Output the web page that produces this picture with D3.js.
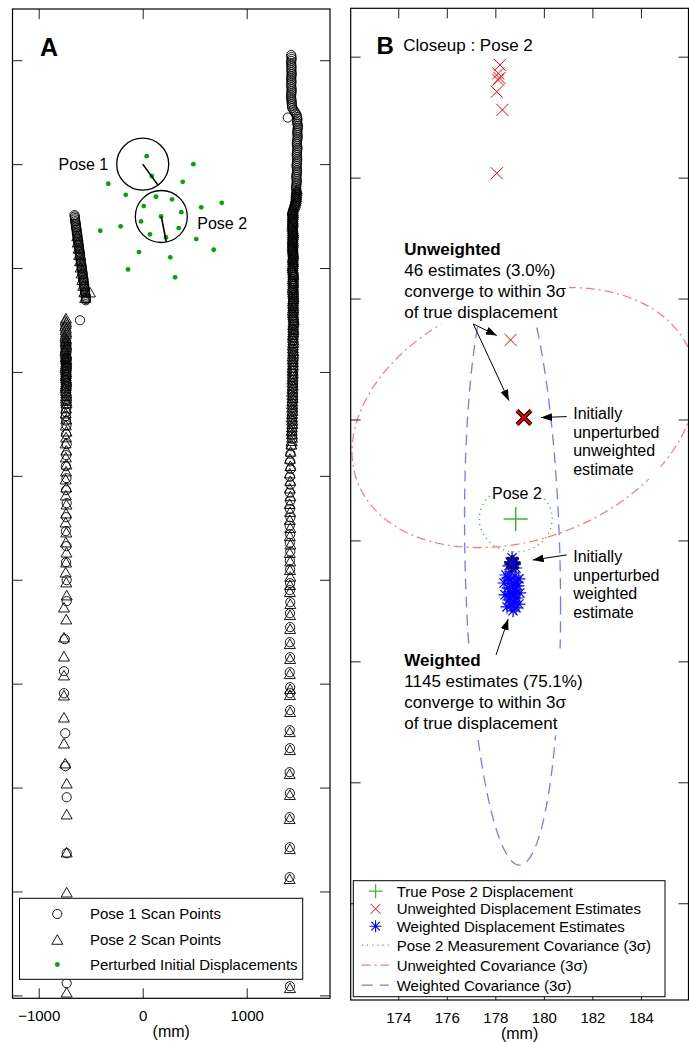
<!DOCTYPE html>
<html>
<head>
<meta charset="utf-8">
<script src="https://cdn.jsdelivr.net/npm/d3@7"></script>
<style>
  body { margin: 0; background: #fff; }
  svg { font-family: "Liberation Sans", Arial, Helvetica, sans-serif; }
</style>
</head>
<body>
<div id="chart"></div>
<script>
// ---------- Panel A data (mm) ----------
var poseNames = ["Pose 1", "Pose 2"];
var poseX = [0, 179];
var poseY = [0, -504];
var poseHeading = [-54, -79];   // degrees
var poseRadius = 250;

var perturbX = [38, 87, 487, -331, 385, -163, 128, 282, 10, 563, 760, 371, 176, -16, -212, -408, 346, 70, 224, 515, -36, 265, 683, -141, 311];
var perturbY = [77, -115, 0, -189, -170, -295, -314, -339, -404, -416, -372, -462, -503, -551, -599, -641, -615, -676, -705, -721, -846, -897, -824, -1013, -1089];

// pose 1 scan points (circles)
var pose1RightWall = [[1428,1050],[1430,1031],[1432,1012],[1429,993],[1427,975],[1429,956],[1431,938],[1430,920],[1429,902],[1431,884],[1433,866],[1430,848],[1428,830],[1429,811],[1431,793],[1429,775],[1427,757],[1430,738],[1432,720],[1431,702],[1430,684],[1428,666],[1426,648],[1429,629],[1431,611],[1433,593],[1434,575],[1436,557],[1438,540],[1450,522],[1462,505],[1472,487],[1481,470],[1485,453],[1488,436],[1486,419],[1484,402],[1488,385],[1395,448],
  [1493,368],[1491,350],[1489,333],[1487,315],[1486,298],[1489,280],[1491,262],[1488,244],[1485,227],[1483,209],[1482,192],[1485,174],[1488,156],[1486,138],[1484,121],[1482,103],[1481,86],[1484,68],[1486,50],[1485,32],[1483,15],[1481,-2],[1479,-20],[1482,-38],[1484,-56],[1483,-73],[1481,-91],[1479,-108],[1477,-126],[1480,-143],[1482,-161],[1480,-179],[1478,-197],[1476,-214],[1475,-232],[1478,-249],[1480,-267],[1477,-284],[1473,-302],[1474,-320],[1476,-338],[1473,-355],[1470,-373],[1464,-390],[1458,-408],[1452,-426],[1446,-444],[1442,-462],[1438,-480],[1440,-498],
  [1441,-516],[1443,-534],[1445,-553],[1442,-571],[1439,-590],[1441,-608],[1443,-627],[1445,-645],[1447,-664],[1444,-683],[1441,-702],[1443,-721],[1444,-740],[1441,-759],[1438,-779],[1442,-798],[1446,-818],[1444,-837],[1442,-857],[1445,-877],[1448,-897],[1446,-917],[1443,-937],[1445,-957],[1447,-978],[1444,-999],[1441,-1020],[1445,-1041],[1449,-1062],[1447,-1083],[1444,-1105],[1447,-1127],[1450,-1149],[1448,-1171],[1445,-1194],[1449,-1217],[1452,-1240],[1449,-1263],[1446,-1287],[1448,-1311],[1450,-1335],[1447,-1359],[1444,-1384],[1448,-1409],[1451,-1434],[1449,-1459],[1447,-1485],[1450,-1511],[1453,-1537],[1450,-1563],[1446,-1590],[1448,-1617],[1450,-1644],[1447,-1671],[1443,-1699],[1446,-1727],[1449,-1755],[1447,-1783],[1445,-1812],[1448,-1841],[1451,-1870],[1448,-1899],[1444,-1929],[1446,-1959],[1448,-1989],[1445,-2019],[1441,-2050],[1444,-2081],[1446,-2112],[1443,-2143],[1440,-2175],[1443,-2207],[1445,-2239],[1442,-2271],[1438,-2304],[1441,-2337],[1443,-2370],[1440,-2403],[1437,-2437],[1439,-2471],[1441,-2505],[1438,-2539],[1435,-2574],[1437,-2609],[1439,-2644],
  [1428,-2715],[1421,-2787],[1418,-2860],[1423,-2934],[1416,-3009],[1420,-3085],[1414,-3162],[1419,-3240],[1415,-3319],[1420,-3399],[1413,-3480],[1418,-3562],[1414,-3645],[1419,-3729],[1415,-3814],[1418,-3900],
  [1417,-4033],[1415,-4100],[1419,-4216],[1416,-4322],[1418,-4456],[1415,-4601],[1417,-4745],[1414,-4890],[1418,-5034],[1416,-5092],[1417,-5255],[1414,-5448],[1416,-5621],[1413,-5852],[1415,-6054],[1413,-6285],[1415,-6574],[1413,-6862],[1414,-7373],[1416,-7912]];
var pose1Obstacle = [[-656,-491],[-653,-504],[-651,-518],[-650,-533],[-649,-549],[-646,-562],[-643,-576],[-642,-591],[-641,-607],[-638,-620],[-635,-633],[-634,-649],[-633,-665],[-630,-677],[-628,-690],[-626,-706],[-625,-723],[-622,-735],[-620,-748],[-618,-764],[-617,-781],[-614,-793],[-612,-806],[-610,-822],[-609,-839],[-606,-852],[-603,-866],[-602,-880],[-602,-894],[-598,-910],[-595,-927],[-594,-940],[-594,-952],[-590,-968],[-587,-985],[-586,-997],[-586,-1010],[-582,-1026],[-579,-1043],[-578,-1055],[-578,-1068],[-574,-1084],[-571,-1101],[-570,-1113],[-570,-1126],[-566,-1142],[-563,-1159],[-562,-1171],[-562,-1184],[-558,-1200],[-555,-1217],[-554,-1229],[-554,-1242],[-550,-1258],[-547,-1275],[-546,-1287],[-545,-1299],[-548,-1310]];
var pose1LeftWall = [[-603,-1502],[-733,-1867],[-735,-1891],[-737,-1915],[-734,-1940],[-731,-1964],[-733,-1992],[-735,-2021],[-737,-2050],[-739,-2079],[-736,-2108],[-733,-2137],[-735,-2170],[-737,-2204],[-734,-2238],[-731,-2272],[-733,-2310],[-735,-2349],[-737,-2387],[-739,-2426],[-736,-2469],[-733,-2512],[-737,-2599],[-731,-2695],[-735,-2801],[-739,-2907],[-733,-3022],[-737,-3138],[-731,-3263],[-735,-3398],[-739,-3532],[-733,-3677],[-737,-3831],[-731,-4004],[-731,-4206],[-750,-4572],[-757,-4880],[-757,-5092],[-745,-5477],[-743,-5794],[-731,-6093],[-731,-6632],[-735,-7277],[-731,-7883]];

// pose 2 scan points (triangles)
var pose2RightWall = [[1482,-241],[1480,-260],[1478,-280],[1476,-299],[1475,-318],[1473,-337],[1470,-357],[1464,-376],[1458,-395],[1450,-414],[1443,-434],[1445,-453],[1447,-472],[1444,-491],[1441,-511],[1443,-530],[1445,-549],[1442,-568],[1439,-588],[1441,-607],[1444,-626],[1446,-645],[1448,-665],[1445,-684],[1442,-704],[1444,-723],[1446,-743],[1443,-762],[1440,-782],[1442,-801],[1445,-821],[1447,-841],[1449,-861],[1446,-881],[1443,-901],[1445,-921],[1447,-941],[1444,-961],[1441,-981],[1443,-1001],[1446,-1022],[1448,-1042],[1450,-1063],[1447,-1083],[1444,-1104],[1446,-1125],[1448,-1146],[1445,-1167],[1442,-1188],[1444,-1209],[1447,-1231],[1449,-1252],[1451,-1274],[1448,-1296],[1445,-1318],[1447,-1340],[1449,-1362],[1446,-1384],[1443,-1407],[1445,-1430],[1448,-1453],[1450,-1476],[1452,-1499],[1449,-1522],[1446,-1546],[1448,-1570],[1450,-1594],[1447,-1618],[1444,-1643],[1446,-1668],[1449,-1693],[1446,-1718],[1443,-1744],[1445,-1770],[1447,-1796],[1444,-1822],[1441,-1849],[1443,-1876],[1446,-1903],[1443,-1930],[1440,-1958],[1442,-1986],[1444,-2014],[1441,-2042],[1438,-2071],[1440,-2100],[1443,-2129],[1440,-2158],[1437,-2188],[1439,-2218],[1441,-2248],[1438,-2278],[1435,-2309],[1437,-2340],[1440,-2371],[1437,-2402],[1434,-2434],[1436,-2466],[1438,-2498],[1435,-2530],[1432,-2563],[1434,-2596],[1436,-2629],[1433,-2662],[1430,-2696],
  [1422,-2764],[1416,-2833],[1420,-2903],[1414,-2974],[1419,-3046],[1415,-3119],[1420,-3193],[1413,-3268],[1418,-3344],[1414,-3421],[1419,-3499],[1415,-3578],[1420,-3658],[1414,-3739],[1418,-3821],[1416,-3904],[1419,-3968],
  [1417,-4048],[1415,-4115],[1419,-4231],[1416,-4337],[1418,-4471],[1415,-4616],[1417,-4760],[1414,-4905],[1418,-5049],[1416,-5107],[1417,-5270],[1414,-5463],[1416,-5636],[1413,-5867],[1415,-6069],[1413,-6300],[1415,-6589],[1413,-6877],[1414,-7388],[1416,-7927]];
var pose2Obstacle = [[-629,-690],[-624,-752],[-617,-811],[-611,-872],[-602,-931],[-596,-992],[-587,-1049],[-580,-1112],[-571,-1168],[-562,-1231],[-553,-1286],[-507,-1232]];
var pose2LeftWall = [[-738,-1482],[-742,-1502],[-736,-1521],[-740,-1540],[-744,-1559],[-737,-1579],[-741,-1598],[-735,-1617],[-739,-1636],[-743,-1656],[-740,-1670],[-737,-1684],[-739,-1698],[-741,-1713],[-738,-1727],[-735,-1742],[-737,-1756],[-739,-1771],[-741,-1785],[-743,-1800],[-739,-1814],[-736,-1829],[-738,-1843],[-740,-1858],[-737,-1872],[-734,-1887],[-736,-1906],[-738,-1925],[-740,-1944],[-742,-1964],[-739,-1983],[-736,-2002],[-738,-2021],[-740,-2041],[-737,-2060],[-734,-2079],[-736,-2098],[-738,-2118],[-740,-2137],[-742,-2156],[-738,-2180],[-735,-2204],[-737,-2228],[-739,-2252],[-736,-2276],[-733,-2300],[-737,-2348],[-741,-2397],[-735,-2454],[-739,-2512],[-733,-2570],[-737,-2627],[-741,-2685],[-735,-2753],[-739,-2820],[-733,-2888],[-737,-2955],[-741,-3032],[-735,-3109],[-739,-3186],[-733,-3273],[-737,-3359],[-741,-3446],[-735,-3542],[-739,-3638],[-733,-3735],[-737,-3831],[-741,-3927],[-735,-4023],[-731,-4148],[-757,-4264],[-735,-4379],[-757,-4553],[-757,-4736],[-757,-4918],[-757,-5111],[-757,-5323],[-757,-5573],[-745,-5765],[-731,-5958],[-731,-6256],[-731,-6622],[-731,-7007],[-735,-7450],[-731,-7970]];

var xTicksA = [-1000, 0, 1000];
var yTicksA = [-8000, -7000, -6000, -5000, -4000, -3000, -2000, -1000, 0, 1000];
var legendLabelsA = ["Pose 1 Scan Points", "Pose 2 Scan Points", "Perturbed Initial Displacements"];

// ---------- Panel B data (mm) ----------
var truePose2 = [178.84, -504.11];
var unweightedX = [177.71, 178.12, 178.19, 178.12, 178.12, 178.17, 178.06, 178.29, 178.06, 178.63];
var unweightedY = [-484.81, -484.81, -485.34, -485.69, -485.96, -485.88, -486.45, -487.20, -489.82, -496.71];
var unweightedInit = [179.18, -499.92];
var weightedX = [178.69, 178.56, 178.85, 178.64, 178.44, 178.81, 178.97, 178.60, 178.36, 178.73, 178.93, 178.52, 178.81, 178.60, 179.01, 178.40, 178.73, 178.89, 178.56, 178.77, 178.97, 178.64, 178.48, 178.85, 178.73, 178.81, 178.69, 178.60, 178.89, 178.52];
var weightedY = [-505.72, -506.05, -506.14, -506.30, -506.43, -506.47, -506.59, -506.63, -506.76, -506.80, -506.88, -506.96, -507.05, -507.13, -507.17, -507.25, -507.30, -507.38, -507.46, -507.54, -507.63, -507.67, -507.75, -507.79, -507.91, -507.21, -506.96, -507.38, -506.72, -506.55];
var weightedInit = [178.71, -505.94];
// 1-sigma covariances, drawn at 3 sigma
var measCov = [[0.2513, 0], [0, 0.2067]];
var unweightedCov = [[5.58, 1.11], [1.11, 3.21]];
var weightedCov = [[0.435, -0.400], [-0.400, 17.32]];

var xTicksB = [174, 176, 178, 180, 182, 184];
var yTicksB = [-520, -515, -510, -505, -500, -495, -490, -485];
var legendLabelsB = ["True Pose 2 Displacement", "Unweighted Displacement Estimates", "Weighted Displacement Estimates",
  "Pose 2 Measurement Covariance (3σ)", "Unweighted Covariance (3σ)", "Weighted Covariance (3σ)"];

// ---------- setup ----------
var width = 689, height = 1042;
var svg = d3.select("#chart").append("svg")
    .attr("width", width)
    .attr("height", height);

var defs = svg.append("defs");
defs.append("marker")
    .attr("id", "head")
    .attr("markerUnits", "userSpaceOnUse")
    .attr("markerWidth", 11).attr("markerHeight", 8)
    .attr("refX", 11).attr("refY", 4)
    .attr("orient", "auto")
  .append("path")
    .attr("d", "M0,0 L11,4 L0,8 Z")
    .attr("fill", "#000");

// custom marker shapes (size = width^2)
var symPlus = { draw: function (c, s) { var r = Math.sqrt(s) / 2; c.moveTo(-r, 0); c.lineTo(r, 0); c.moveTo(0, -r); c.lineTo(0, r); } };
var symX = { draw: function (c, s) { var r = Math.sqrt(s) / 2; c.moveTo(-r, -r); c.lineTo(r, r); c.moveTo(-r, r); c.lineTo(r, -r); } };
var symStar = { draw: function (c, s) {
  var r = Math.sqrt(s) / 2, d = r * 0.7071;
  c.moveTo(-r, 0); c.lineTo(r, 0); c.moveTo(0, -r); c.lineTo(0, r);
  c.moveTo(-d, -d); c.lineTo(d, d); c.moveTo(-d, d); c.lineTo(d, -d);
} };
var symTri = { draw: function (c, s) { var w = Math.sqrt(s), h = w * 0.87; c.moveTo(0, -h / 2); c.lineTo(w / 2, h / 2); c.lineTo(-w / 2, h / 2); c.closePath(); } };

var circlePath = d3.symbol().type(d3.symbolCircle).size(Math.PI * 4.6 * 4.6)();
var triPath = d3.symbol().type(symTri).size(11 * 11)();

// draws the box with inward ticks on all four sides
function drawFrame(g, x, y, xticks, yticks, fmt, labelPad) {
  var x0 = x.range()[0], x1 = x.range()[1], y0 = y.range()[1], y1 = y.range()[0];
  if (y0 > y1) { var t = y0; y0 = y1; y1 = t; }
  var bottom = g.append("g").attr("transform", "translate(0," + y1 + ")")
      .call(d3.axisBottom(x).tickValues(xticks).tickSize(-10).tickPadding(labelPad).tickFormat(fmt));
  g.append("g").attr("transform", "translate(0," + y0 + ")")
      .call(d3.axisTop(x).tickValues(xticks).tickSize(-10).tickFormat(""));
  g.append("g").attr("transform", "translate(" + x0 + ",0)")
      .call(d3.axisLeft(y).tickValues(yticks).tickSize(-10).tickFormat(""));
  g.append("g").attr("transform", "translate(" + x1 + ",0)")
      .call(d3.axisRight(y).tickValues(yticks).tickSize(-10).tickFormat(""));
  g.selectAll(".domain").remove();
  g.selectAll(".tick line").attr("stroke", "#222").attr("stroke-width", 1);
  bottom.selectAll("text")
      .attr("font-family", "Liberation Sans, Arial, sans-serif")
      .attr("font-size", 15).attr("fill", "#000");
  bottom.attr("font-family", null).attr("font-size", null);
  g.append("rect")
      .attr("x", x0).attr("y", y0)
      .attr("width", x1 - x0).attr("height", y1 - y0)
      .attr("fill", "none").attr("stroke", "#000").attr("stroke-width", 1.2);
  g.append("text")
      .attr("x", (x0 + x1) / 2).attr("y", y1 + 39)
      .attr("text-anchor", "middle").attr("font-size", 16)
      .text("(mm)");
}

// text block with a white box behind it
function textBlock(g, x, y, lines, size, lineH, boldFirst, pad) {
  var box = g.append("rect").attr("fill", "#fff");
  var t = g.append("text").attr("font-size", size);
  lines.forEach(function (s, i) {
    t.append("tspan").attr("x", x).attr("y", y + i * lineH)
      .attr("font-weight", boldFirst && i === 0 ? "bold" : null)
      .text(s);
  });
  var b = t.node().getBBox();
  box.attr("x", b.x - pad).attr("y", b.y - pad)
     .attr("width", b.width + 2 * pad).attr("height", b.height + 2 * pad);
}

// ================= PANEL A =================
var xA = d3.scaleLinear().domain([-1252, 1801]).range([12.5, 330]);
var yA = d3.scaleLinear().domain([1493, -8028]).range([9, 998.3]);

defs.append("clipPath").attr("id", "clipA").append("rect")
    .attr("x", 12.5).attr("y", 9).attr("width", 317.5).attr("height", 989.3);

var gA = svg.append("g");
var plotA = gA.append("g").attr("clip-path", "url(#clipA)");

var pose1Scan = pose1RightWall.concat(pose1Obstacle, pose1LeftWall);
var pose2Scan = pose2RightWall.concat(pose2Obstacle, pose2LeftWall);

plotA.selectAll(".p1").data(pose1Scan).enter().append("path")
    .attr("class", "p1")
    .attr("d", circlePath)
    .attr("transform", function (d) { return "translate(" + xA(d[0]) + "," + yA(d[1]) + ")"; })
    .attr("fill", "none").attr("stroke", "#000").attr("stroke-width", 0.9);

plotA.selectAll(".p2").data(pose2Scan).enter().append("path")
    .attr("class", "p2")
    .attr("d", triPath)
    .attr("transform", function (d) { return "translate(" + xA(d[0]) + "," + yA(d[1]) + ")"; })
    .attr("fill", "none").attr("stroke", "#000").attr("stroke-width", 0.9);

plotA.selectAll(".pert").data(perturbX).enter().append("circle")
    .attr("class", "pert")
    .attr("cx", function (d) { return xA(d); })
    .attr("cy", function (d, i) { return yA(perturbY[i]); })
    .attr("r", 2.4)
    .attr("fill", "#00a800");

var kA = xA(poseRadius) - xA(0);
poseX.forEach(function (px, i) {
  plotA.append("circle")
      .attr("cx", xA(px)).attr("cy", yA(poseY[i])).attr("r", kA)
      .attr("fill", "none").attr("stroke", "#000").attr("stroke-width", 1.3);
  var a = poseHeading[i] * Math.PI / 180;
  plotA.append("line")
      .attr("x1", xA(px)).attr("y1", yA(poseY[i]))
      .attr("x2", xA(px + poseRadius * Math.cos(a)))
      .attr("y2", yA(poseY[i] + poseRadius * Math.sin(a)))
      .attr("stroke", "#000").attr("stroke-width", 1.6);
});

gA.append("text").attr("x", xA(-331)).attr("y", yA(-58))
    .attr("text-anchor", "end").attr("font-size", 16).text(poseNames[0]);
gA.append("text").attr("x", xA(525)).attr("y", yA(-628))
    .attr("font-size", 16).text(poseNames[1]);

drawFrame(gA, xA, yA, xTicksA, yTicksA, d3.format("d"), 12);

gA.append("text").attr("x", 40).attr("y", 56)
    .attr("font-size", 25).attr("font-weight", "bold").text("A");

// legend A
var legA = gA.append("g");
legA.append("rect").attr("x", 19.5).attr("y", 898.3).attr("width", 283.2).attr("height", 81)
    .attr("fill", "#fff").attr("stroke", "#000").attr("stroke-width", 1);
var legAY = [919, 945, 970];
legA.append("path").attr("d", circlePath).attr("transform", "translate(57.3," + (legAY[0] - 5) + ")")
    .attr("fill", "none").attr("stroke", "#000").attr("stroke-width", 0.9);
legA.append("path").attr("d", triPath).attr("transform", "translate(57.3," + (legAY[1] - 5.5) + ")")
    .attr("fill", "none").attr("stroke", "#000").attr("stroke-width", 0.9);
legA.append("circle").attr("cx", 57.3).attr("cy", legAY[2] - 5.5).attr("r", 2.4).attr("fill", "#00a800");
legendLabelsA.forEach(function (s, i) {
  legA.append("text").attr("x", 90).attr("y", legAY[i]).attr("font-size", 15).text(s);
});

// ================= PANEL B =================
var xB = d3.scaleLinear().domain([172.04, 185.96]).range([350.7, 688.5]);
var yB = d3.scaleLinear().domain([-524, -483]).range([1000, 8.3]);

defs.append("clipPath").attr("id", "clipB").append("rect")
    .attr("x", 350.7).attr("y", 8.3).attr("width", 337.8).attr("height", 991.7);

var gB = svg.append("g");
var plotB = gB.append("g").attr("clip-path", "url(#clipB)");

function ellipsePoints(center, cov, k) {
  var a = Math.sqrt(cov[0][0]), b = cov[0][1] / a, c = Math.sqrt(cov[1][1] - b * b);
  return d3.range(0, 361, 2).map(function (t) {
    var r = t * Math.PI / 180;
    return [center[0] + k * a * Math.cos(r), center[1] + k * (b * Math.cos(r) + c * Math.sin(r))];
  });
}
var lineB = d3.line().x(function (d) { return xB(d[0]); }).y(function (d) { return yB(d[1]); });

var greenC = "#3cb93c", redC = "#ff0000", blueC = "#0000ff";
var covStyles = [
  { c: "#33b833", dash: "1.2,4", w: 1.3 },
  { c: "#ff7878", dash: "9,4,2,4", w: 1.2 },
  { c: "#7878ff", dash: "11,7", w: 1.3 }
];

plotB.append("path").attr("d", lineB(ellipsePoints(truePose2, measCov, 3)))
    .attr("fill", "none").attr("stroke", covStyles[0].c).attr("stroke-width", covStyles[0].w)
    .attr("stroke-dasharray", covStyles[0].dash);
plotB.append("path").attr("d", lineB(ellipsePoints(unweightedInit, unweightedCov, 3)))
    .attr("fill", "none").attr("stroke", covStyles[1].c).attr("stroke-width", covStyles[1].w)
    .attr("stroke-dasharray", covStyles[1].dash);
plotB.append("path").attr("d", lineB(ellipsePoints(weightedInit, weightedCov, 3)))
    .attr("fill", "none").attr("stroke", covStyles[2].c).attr("stroke-width", covStyles[2].w)
    .attr("stroke-dasharray", covStyles[2].dash);

// true displacement
plotB.append("path").attr("d", d3.symbol().type(symPlus).size(24 * 24)())
    .attr("transform", "translate(" + xB(truePose2[0]) + "," + yB(truePose2[1]) + ")")
    .attr("fill", "none").attr("stroke", greenC).attr("stroke-width", 1.5);

// unweighted estimates
var xPath = d3.symbol().type(symX).size(12 * 12)();
plotB.selectAll(".uw").data(unweightedX).enter().append("path")
    .attr("class", "uw").attr("d", xPath)
    .attr("transform", function (d, i) { return "translate(" + xB(d) + "," + yB(unweightedY[i]) + ")"; })
    .attr("fill", "none").attr("stroke", redC).attr("stroke-width", 1);

// weighted estimates
var starPath = d3.symbol().type(symStar).size(13 * 13)();
plotB.selectAll(".w").data(weightedX).enter().append("path")
    .attr("class", "w").attr("d", starPath)
    .attr("transform", function (d, i) { return "translate(" + xB(d) + "," + yB(weightedY[i]) + ")"; })
    .attr("fill", "none").attr("stroke", blueC).attr("stroke-width", 1.2);

// initially unperturbed estimates (bold)
var bx = d3.symbol().type(symX).size(14 * 14)();
plotB.append("path").attr("d", bx)
    .attr("transform", "translate(" + xB(unweightedInit[0]) + "," + yB(unweightedInit[1]) + ")")
    .attr("fill", "none").attr("stroke", "#000").attr("stroke-width", 4.2);
plotB.append("path").attr("d", bx)
    .attr("transform", "translate(" + xB(unweightedInit[0]) + "," + yB(unweightedInit[1]) + ")")
    .attr("fill", "none").attr("stroke", redC).attr("stroke-width", 2);
var bs = d3.symbol().type(symStar).size(16 * 16)();
plotB.append("path").attr("d", bs)
    .attr("transform", "translate(" + xB(weightedInit[0]) + "," + yB(weightedInit[1]) + ")")
    .attr("fill", "none").attr("stroke", "#000").attr("stroke-width", 3.6);
plotB.append("path").attr("d", bs)
    .attr("transform", "translate(" + xB(weightedInit[0]) + "," + yB(weightedInit[1]) + ")")
    .attr("fill", "none").attr("stroke", blueC).attr("stroke-width", 1.6);

// annotations
var ann = gB.append("g");
textBlock(ann, xB(174.25), yB(-493.20), ["Unweighted", "46 estimates (3.0%)", "converge to within 3σ", "of true displacement"], 17, 21, true, 2.5);
textBlock(ann, xB(174.25), yB(-510.19), ["Weighted", "1145 estimates (75.1%)", "converge to within 3σ", "of true displacement"], 17, 21, true, 2.5);
textBlock(ann, xB(181.21), yB(-499.98), ["Initially", "unperturbed", "unweighted", "estimate"], 16, 18.7, false, 1);
textBlock(ann, xB(181.21), yB(-505.89), ["Initially", "unperturbed", "weighted", "estimate"], 16, 18.7, false, 1);

var p2 = ann.append("text").attr("x", xB(178.89)).attr("y", yB(-503.28))
    .attr("text-anchor", "middle").attr("font-size", 16).text("Pose 2");
var p2b = p2.node().getBBox();
ann.insert("rect", "text:last-child")
    .attr("x", p2b.x - 2).attr("y", p2b.y - 1).attr("width", p2b.width + 4).attr("height", p2b.height + 2)
    .attr("fill", "#fff");

// arrows: [fromX, fromY, toX, toY]
var arrowsB = [
  [177.09, -496.05, 178.06, -496.53],
  [177.09, -496.05, 178.56, -499.22],
  [180.94, -499.88, 179.88, -499.92],
  [180.94, -505.60, 179.54, -505.81],
  [178.03, -509.73, 178.53, -508.25]
];
ann.selectAll(".arr").data(arrowsB).enter().append("line")
    .attr("class", "arr")
    .attr("x1", function (d) { return xB(d[0]); }).attr("y1", function (d) { return yB(d[1]); })
    .attr("x2", function (d) { return xB(d[2]); }).attr("y2", function (d) { return yB(d[3]); })
    .attr("stroke", "#000").attr("stroke-width", 1)
    .attr("marker-end", "url(#head)");

drawFrame(gB, xB, yB, xTicksB, yTicksB, d3.format("d"), 12);

// title
var ttl = gB.append("g");
textBlock(ttl, 403.3, 51, ["Closeup : Pose 2"], 17, 20, false, 3);
ttl.append("text").attr("x", 376.5).attr("y", 53.5)
    .attr("font-size", 24).attr("font-weight", "bold").text("B");

// legend B
var legB = gB.append("g");
legB.append("rect").attr("x", 353.3).attr("y", 880.7).attr("width", 311.7).attr("height", 116)
    .attr("fill", "#fff").attr("stroke", "#000").attr("stroke-width", 1);
var legBY = [896.7, 914.3, 931.7, 950.7, 970.7, 990.7];
legB.append("path").attr("d", d3.symbol().type(symPlus).size(14 * 14)())
    .attr("transform", "translate(375.6," + (legBY[0] - 5.5) + ")")
    .attr("fill", "none").attr("stroke", greenC).attr("stroke-width", 1.3);
legB.append("path").attr("d", d3.symbol().type(symX).size(10 * 10)())
    .attr("transform", "translate(375.6," + (legBY[1] - 5.5) + ")")
    .attr("fill", "none").attr("stroke", redC).attr("stroke-width", 1);
legB.append("path").attr("d", d3.symbol().type(symStar).size(12 * 12)())
    .attr("transform", "translate(375.6," + (legBY[2] - 5.5) + ")")
    .attr("fill", "none").attr("stroke", blueC).attr("stroke-width", 1.1);
covStyles.forEach(function (s, i) {
  legB.append("line")
      .attr("x1", 361.7).attr("x2", 388.7)
      .attr("y1", legBY[3 + i] - 5.5).attr("y2", legBY[3 + i] - 5.5)
      .attr("stroke", s.c).attr("stroke-width", s.w).attr("stroke-dasharray", s.dash);
});
legendLabelsB.forEach(function (s, i) {
  legB.append("text").attr("x", 396.7).attr("y", legBY[i]).attr("font-size", 15).text(s);
});
</script>
</body>
</html>
